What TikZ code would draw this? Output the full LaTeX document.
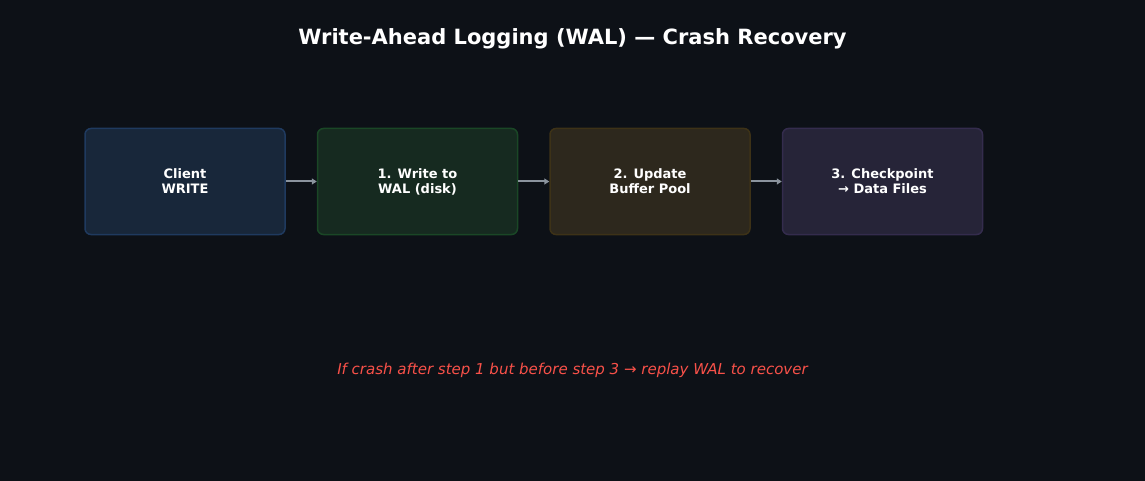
\documentclass[tikz,border=0pt]{standalone}
\usepackage{fontspec}
\setmainfont{DejaVu Sans}
\usetikzlibrary{arrows.meta}
\definecolor{bg}{HTML}{0D1117}
\tikzset{box/.style={draw, line width=1.5pt, rounded corners=6pt, minimum width=200pt, minimum height=106pt, text=white, font=\fontsize{13}{15}\selectfont\bfseries, align=center},
arr/.style={draw={rgb,255:red,139;green,148;blue,158}, line width=2pt, -{Triangle[length=5pt,width=6pt]}}}
\begin{document}
\begin{tikzpicture}[x=1pt,y=-1pt]
\fill[bg] (0,0) rectangle (1145,481);
\useasboundingbox (0,0) rectangle (1145,481);
\node[text=white,font=\fontsize{21}{25}\selectfont\bfseries] (t) at (572.5,39) {Write-Ahead Logging (WAL) — Crash Recovery};
\node[box,draw={rgb,255:red,31;green,58;blue,95},fill={rgb,255:red,24;green,39;blue,58}] (a) at (185,181.5) {Client\\WRITE};
\node[box,draw={rgb,255:red,26;green,71;blue,38},fill={rgb,255:red,22;green,42;blue,32}] (b) at (417.5,181.5) {1. Write to\\WAL (disk)};
\node[box,draw={rgb,255:red,61;green,50;blue,23},fill={rgb,255:red,45;green,40;blue,29}] (c) at (650,181.5) {2. Update\\Buffer Pool};
\node[box,draw={rgb,255:red,52;green,44;blue,77},fill={rgb,255:red,38;green,36;blue,56}] (d) at (882.5,181.5) {3. Checkpoint\\→ Data Files};
\draw[arr] (a.east) -- (b.west);
\draw[arr] (b.east) -- (c.west);
\draw[arr] (c.east) -- (d.west);
\node[text={rgb,255:red,248;green,81;blue,73},font=\fontsize{15}{18}\selectfont\itshape] (f) at (572.5,370) {If crash after step 1 but before step 3 → replay WAL to recover};
\end{tikzpicture}
\end{document}
